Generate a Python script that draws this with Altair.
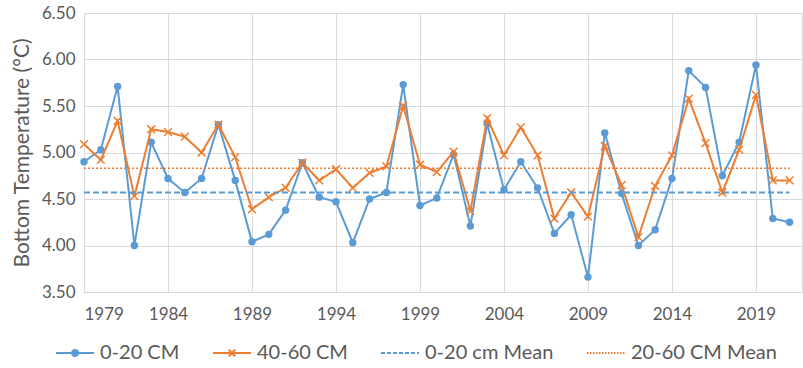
import altair as alt
import pandas as pd

years = list(range(1979, 2022))
shallow = [4.90, 5.03, 5.71, 4.00, 5.11, 4.72, 4.57, 4.72, 5.30, 4.70,
           4.04, 4.12, 4.38, 4.89, 4.52, 4.47, 4.03, 4.50, 4.57, 5.73,
           4.43, 4.51, 4.98, 4.21, 5.31, 4.60, 4.90, 4.62, 4.13, 4.33,
           3.66, 5.21, 4.56, 4.00, 4.17, 4.72, 5.88, 5.70, 4.75, 5.11,
           5.94, 4.29, 4.25]
deep = [5.09, 4.92, 5.34, 4.53, 5.25, 5.22, 5.17, 5.00, 5.30, 4.95,
        4.39, 4.52, 4.62, 4.89, 4.70, 4.82, 4.62, 4.78, 4.85, 5.50,
        4.87, 4.79, 5.01, 4.37, 5.37, 4.97, 5.27, 4.97, 4.29, 4.57,
        4.31, 5.07, 4.65, 4.09, 4.64, 4.97, 5.58, 5.10, 4.57, 5.03,
        5.62, 4.70, 4.70]
series_names = ["0-20 CM", "40-60 CM", "0-20 cm Mean", "20-60 CM Mean"]
series_colors = ["#5B9BD5", "#ED7D31", "#5B9BD5", "#ED7D31"]
mean_values = [4.57, 4.83]
x_ticks = list(range(1979, 2020, 5))
y_ticks = [3.5, 4.0, 4.5, 5.0, 5.5, 6.0, 6.5]

long_df = pd.DataFrame({
    "year": years * 2,
    "temp": shallow + deep,
    "series": [series_names[0]] * len(years) + [series_names[1]] * len(years),
})
means_df = pd.DataFrame({
    "series": series_names[2:],
    "temp": mean_values,
    "start": [years[0]] * 2,
    "end": [years[-1]] * 2,
})
legend_df = pd.DataFrame({"series": series_names})

FONT = "Lato"
GRID = "#D9D9D9"
TXT = "#595959"

x_scale = alt.Scale(domain=[1979, 2021.74], nice=False, zero=False)
y_scale = alt.Scale(domain=[3.5, 6.5], nice=False, zero=False)
color_scale = alt.Scale(domain=series_names, range=series_colors)

x_enc = alt.X("year:Q", scale=x_scale, title=None,
              axis=alt.Axis(values=x_ticks, format="d", grid=True, gridColor=GRID,
                            ticks=False, domain=True, domainColor=GRID,
                            labelFont=FONT, labelFontSize=17, labelColor=TXT,
                            labelPadding=14))
y_enc = alt.Y("temp:Q", scale=y_scale, title="Bottom Temperature (°C)",
              axis=alt.Axis(values=y_ticks, format=".2f", grid=True, gridColor=GRID,
                            ticks=False, domain=False,
                            labelFont=FONT, labelFontSize=17, labelColor=TXT,
                            labelPadding=9, titleFont=FONT, titleFontSize=21,
                            titleFontWeight="normal", titleColor=TXT, titlePadding=9))
color_nolegend = alt.Color("series:N", scale=color_scale, legend=None)

p_dot = ("M-1,0L1,0M-0.16,0A0.16,0.16,0,1,0,0.16,0A0.16,0.16,0,1,0,-0.16,0"
         "M-0.08,0A0.08,0.08,0,1,0,0.08,0A0.08,0.08,0,1,0,-0.08,0")
p_x = "M-1,0L1,0M-0.17,-0.17L0.17,0.17M-0.17,0.17L0.17,-0.17"
p_line = "M-1,0L1,0"

leg = alt.Legend(title=None, orient="none", legendX=-29, legendY=320, direction="horizontal",
                 columns=4, labelFont=FONT, labelFontSize=20, labelColor=TXT, labelOffset=5,
                 columnPadding=29, symbolSize=1444, symbolStrokeWidth=2, labelLimit=400)

legend_layer = alt.Chart(legend_df).transform_filter("false").mark_point(
    filled=False, opacity=1, strokeWidth=2, size=1444).encode(
    color=alt.Color("series:N", scale=color_scale, legend=leg),
    shape=alt.Shape("series:N", scale=alt.Scale(domain=series_names, range=[p_dot, p_x, p_line, p_line]), legend=leg),
    strokeDash=alt.StrokeDash("series:N", scale=alt.Scale(domain=series_names, range=[[1, 0], [1, 0], [4, 2], [1.5, 1.5]]), legend=leg),
)

base = alt.Chart(long_df)

blue_line = base.transform_filter(alt.datum.series == series_names[0]).mark_line(strokeWidth=2).encode(
    x=x_enc, y=y_enc, color=color_nolegend)
blue_pts = base.transform_filter(alt.datum.series == series_names[0]).mark_point(
    filled=True, shape="circle", size=55, opacity=1).encode(x="year:Q", y="temp:Q", color=color_nolegend)
orange_line = base.transform_filter(alt.datum.series == series_names[1]).mark_line(strokeWidth=2).encode(
    x="year:Q", y="temp:Q", color=color_nolegend)
orange_pts = base.transform_filter(alt.datum.series == series_names[1]).mark_point(
    filled=False, shape="M-1,-1L1,1M-1,1L1,-1", size=60, strokeWidth=1.5, opacity=1).encode(
    x="year:Q", y="temp:Q", color=color_nolegend)

mean_blue = alt.Chart(means_df).transform_filter(alt.datum.series == series_names[2]).mark_rule(
    strokeWidth=2, strokeDash=[6, 3]).encode(x="start:Q", x2="end:Q", y="temp:Q", color=color_nolegend)
mean_orange = alt.Chart(means_df).transform_filter(alt.datum.series == series_names[3]).mark_rule(
    strokeWidth=1.5, strokeDash=[2, 2]).encode(x="start:Q", x2="end:Q", y="temp:Q", color=color_nolegend)

chart = alt.layer(legend_layer, blue_line, blue_pts, orange_line, orange_pts, mean_blue, mean_orange).properties(
    width=718, height=279,
    padding={"left": 84, "top": 13, "right": 1, "bottom": 76},
    autosize=alt.AutoSizeParams(type="none"),
).configure_view(stroke=None).configure(background="white")

chart.save("out.html", embed_options={"renderer": "svg", "actions": False})
